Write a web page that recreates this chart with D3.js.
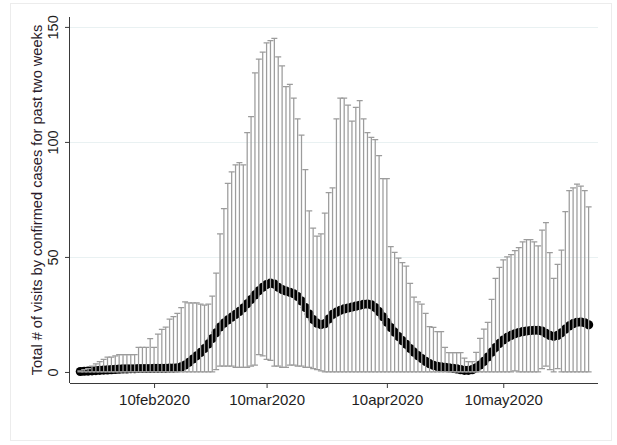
<!DOCTYPE html>
<html>
<head>
<meta charset="utf-8">
<script src="https://cdn.jsdelivr.net/npm/d3@7"></script>
<style>
  body { margin: 0; background: #fff; }
  svg { display: block; font-family: "Liberation Sans", Arial, sans-serif; }
</style>
</head>
<body>
<div id="chart"></div>
<script>
// === data ===
const firstDay = "2020-01-22"; // one observation per day from here on
const yTitle = "Total # of visits by confirmed cases for past two weeks";
const xTickDates = ["2020-02-10", "2020-03-10", "2020-04-10", "2020-05-10"];
const yTicks = [0, 50, 100, 150];

// upper end of each bar
const upper = [
  0.5, 1, 1.5, 2.5, 3.5, 4.5, 5.5, 6.5, 6.5, 7,
  7.5, 7.5, 7.5, 7.5, 7.5, 10.7, 10.7, 10.7, 14.5, 10.7,
  16.5, 18.5, 19.5, 23, 24, 25.5, 28, 30.5, 30, 30,
  30, 29.5, 29, 29.5, 33, 43, 60, 71, 82, 87,
  90, 91, 90, 104, 111, 130, 136, 139, 143, 144,
  145, 137, 133, 124, 125, 119, 110, 103, 88, 70,
  62.5, 59, 60, 69, 78, 80, 110, 119, 119, 116,
  109, 115, 118, 110, 104, 102, 101, 94, 84, 84,
  54.5, 52, 49.5, 47.5, 46, 38.5, 32.5, 30.5, 29.5, 25.5,
  19.7, 19.4, 17.5, 17.5, 10.7, 8.4, 8.4, 8.4, 8.4, 6,
  4.5, 4.5, 8.5, 14.6, 18.6, 21.5, 31.6, 40.7, 45.5, 48.7,
  50, 51, 52.7, 54, 56.5, 57.5, 57.5, 56.5, 54.8, 61.7,
  64.9, 51.9, 40.7, 46.8, 53, 69.7, 78.8, 80, 81.7, 80.8,
  78.8, 71.8
];

// black markers
const mean = [
  0.2, 0.3, 0.4, 0.5, 0.6, 0.7, 0.8, 0.9, 1.0, 1.1,
  1.2, 1.3, 1.3, 1.4, 1.4, 1.5, 1.5, 1.5, 1.5, 1.6,
  1.6, 1.6, 1.6, 1.7, 1.7, 1.8, 2.2, 3.0, 4.2, 5.6,
  7.0, 8.5, 10.2, 12.2, 14.5, 17.0, 19.5, 21.2, 22.6, 23.8,
  25.0, 26.3, 27.8, 29.6, 31.5, 33.5, 35.3, 36.8, 38.0, 38.6,
  38.2, 36.8, 35.8, 35.2, 34.6, 34.0, 32.8, 30.8, 28.0, 25.2,
  22.8, 21.2, 20.6, 21.0, 23.0, 25.0, 26.0, 26.8, 27.4, 27.8,
  28.2, 28.6, 29.0, 29.4, 29.5, 29.2, 28.0, 26.2, 24.0, 21.6,
  19.3, 17.3, 15.4, 13.6, 12.0, 10.2, 8.6, 7.1, 5.8, 4.6,
  3.6, 2.9, 2.4, 2.2, 2.0, 1.8, 1.6, 1.3, 1.0, 0.7,
  0.7, 1.0, 1.8, 3.0, 4.6, 6.5, 8.6, 10.6, 12.4, 13.9,
  15.0, 15.9, 16.6, 17.1, 17.5, 17.8, 18.0, 18.1, 18.1, 17.8,
  16.8, 15.9, 15.5, 15.9, 17.0, 18.6, 20.0, 21.0, 21.6, 21.7,
  21.4, 20.5
];

// lower end of each bar
const lower = [
  0, 0, 0, 0, 0, 0, 0, 0, 0, 0,
  0, 0, 0, 0, 0, 0, 0, 0, 0, 0,
  0, 0, 0, 0, 0, 0, 0, 0, 0, 0,
  0, 0, 0, 0, 0, 1, 2.5, 2.5, 2.5, 2.5,
  2, 2, 2, 2, 2.5, 3, 7.5, 7, 5.5, 5,
  2.5, 2.5, 2, 2, 3, 3, 2.5, 2.5, 2, 2,
  1.5, 1, 0.5, 0, 0, 0, 0, 0, 0, 0,
  0, 0, 0, 0, 0, 0, 0, 0, 0, 0,
  0, 0, 0, 0, 0, 0, 0, 0, 0, 0,
  0, 0, 0, 0, 0, 0, 0, 0, 0, 0,
  0, 0, 0, 0, 0, 0, 0, 0, 0, 0,
  0, 0, 0.5, 0, 0, 0, 0, 0, 0, 1.5,
  2.5, 1, 0, 1.5, 0, 0, 0, 0, 0, 0,
  0, 0
];

(() => {
  const width = 617, height = 445;
  const left = 70, right = 598, top = 17, bottom = 383;

  const parse = d3.utcParse("%Y-%m-%d");
  const day0 = parse(firstDay);
  const rows = mean.map((m, i) => ({
    date: d3.utcDay.offset(day0, i),
    mean: m,
    hi: upper[i],
    lo: lower[i],
  }));

  const x = d3.scaleUtc()
    .domain([d3.utcHour.offset(day0, -64), d3.utcHour.offset(day0, 133 * 24 + 10)])
    .range([left, right]);
  const y = d3.scaleLinear().domain([-4.8, 154.3]).range([bottom, top]);

  const svg = d3.select("#chart").append("svg")
    .attr("width", width).attr("height", height);

  svg.append("rect").attr("x", 0).attr("y", 0).attr("width", width).attr("height", height).attr("fill", "#fff");
  // faint frame round the graph region
  svg.append("rect").attr("x", 10.5).attr("y", 3.5).attr("width", 601).attr("height", 437)
    .attr("fill", "none").attr("stroke", "#ececec");

  // grid
  svg.append("g").selectAll("line").data(yTicks.filter((t) => t > 0)).join("line")
    .attr("x1", left).attr("x2", right)
    .attr("y1", (d) => Math.round(y(d)) + 0.5).attr("y2", (d) => Math.round(y(d)) + 0.5)
    .attr("stroke", "#e9f1f2").attr("stroke-width", 1);

  // markers first, bars are drawn over them
  svg.append("g").selectAll("circle").data(rows).join("circle")
    .attr("cx", (d) => x(d.date)).attr("cy", (d) => y(d.mean))
    .attr("r", 4.6).attr("fill", "#000");

  const capW = 3;
  const bars = svg.append("g").attr("stroke", "#9c9c9c").attr("stroke-width", 1.25).attr("fill", "none");
  bars.selectAll("path").data(rows).join("path")
    .attr("d", (d) => {
      const cx = x(d.date), y0 = y(d.lo), y1 = y(d.hi);
      return `M${cx},${y0}V${y1}M${cx - capW},${y1}H${cx + capW}M${cx - capW},${y0}H${cx + capW}`;
    });

  // axes
  const fmt = (d) => d3.utcFormat("%d%b%Y")(d).toLowerCase();
  const xAxis = svg.append("g").attr("transform", `translate(0,${bottom})`)
    .call(d3.axisBottom(x).tickValues(xTickDates.map(parse)).tickFormat(fmt).tickSize(5).tickPadding(6));
  xAxis.select(".domain").attr("d", `M${left},0.5H${right}`);
  xAxis.selectAll(".tick text").style("font-size", "15px");

  const yAxis = svg.append("g").attr("transform", `translate(${left},0)`)
    .call(d3.axisLeft(y).tickValues(yTicks).tickSize(5));
  yAxis.select(".domain").attr("d", `M-0.5,${top}V${bottom}`);
  yAxis.selectAll(".tick text")
    .attr("x", null).attr("dy", null)
    .attr("text-anchor", "middle")
    .attr("transform", "translate(-12,0) rotate(-90)")
    .style("font-size", "14.5px");

  svg.selectAll(".domain, .tick line").attr("stroke", "#3a3a3a");
  svg.selectAll(".tick text").attr("fill", "#1e1e1e")
    .style("font-family", "'Liberation Sans', Arial, sans-serif");

  svg.append("text")
    .attr("transform", `translate(42,200) rotate(-90)`)
    .attr("text-anchor", "middle")
    .attr("fill", "#2a1a2a")
    .style("font-size", "14.6px")
    .text(yTitle);
})();
</script>
</body>
</html>
